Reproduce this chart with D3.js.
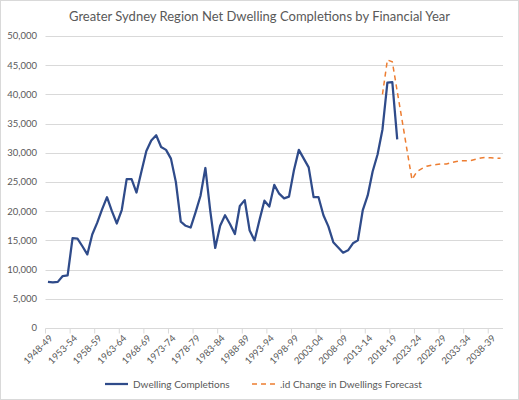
<!DOCTYPE html>
<html>
<head>
<meta charset="utf-8">
<script src="https://cdn.jsdelivr.net/npm/d3@7"></script>
<style>
  body { margin: 0; background: #fff; }
  svg { display: block; font-family: Lato, "Open Sans", sans-serif; }
</style>
</head>
<body>
<div id="chart"></div>
<script>
'use strict';

var TITLE = 'Greater Sydney Region Net Dwelling Completions by Financial Year';

// financial years 1948-49 .. 2040-41
var years = d3.range(1948, 2041).map(function(y) {
    return y + '-' + String((y + 1) % 100).padStart(2, '0');
});

// Dwelling Completions, from 1948-49
var completions = [
    7900, 7800, 7900, 8900, 9000, 15400, 15300, 14000, 12600, 16000,
    18000, 20300, 22400, 20000, 17900, 20200, 25500, 25500, 23200, 26800,
    30300, 32100, 33000, 31000, 30500, 29000, 25000, 18200, 17500, 17200,
    19800, 22600, 27400, 20000, 13700, 17500, 19300, 17800, 16100, 20900,
    21900, 16700, 15000, 18500, 21800, 20800, 24500, 23000, 22200, 22500,
    27000, 30500, 29000, 27500, 22400, 22400, 19300, 17400, 14700, 13800,
    12900, 13300, 14500, 15000, 20200, 22700, 26800, 29700, 34000, 42000,
    42100, 32300
];

// .id Change in Dwellings Forecast, from 2016-17
var forecastStart = 68;
var forecast = [
    40000, 45900, 45600, 40500, 35500, 30400, 25400, 26800, 27300, 27700,
    27900, 28000, 28100, 28100, 28300, 28500, 28650, 28650, 28700, 28900,
    29100, 29200, 29150, 29100, 29050
];

var yTicks = d3.range(0, 50001, 5000);

var width = 519, height = 400;
var margin = { top: 36, right: 16, bottom: 72, left: 45.5 };

var svg = d3.select('#chart')
    .append('svg')
    .attr('width', width)
    .attr('height', height);

// outer border
svg.append('rect')
    .attr('x', 0.5).attr('y', 0.5)
    .attr('width', width - 1).attr('height', height - 1)
    .attr('fill', '#fff')
    .attr('stroke', '#d9d9d9');

svg.append('text')
    .attr('x', width / 2)
    .attr('y', 21)
    .attr('text-anchor', 'middle')
    .style('font-size', '13px')
    .attr('fill', '#595959')
    .text(TITLE);

var x = d3.scaleBand()
    .domain(years)
    .range([margin.left, width - margin.right])
    .padding(0);

var y = d3.scaleLinear()
    .domain([0, 50000])
    .range([height - margin.bottom, margin.top]);

function cx(i) { return x(years[i]) + x.bandwidth() / 2; }

// gridlines
svg.append('g')
    .selectAll('line')
    .data(yTicks.slice(1))
    .enter().append('line')
    .attr('x1', margin.left)
    .attr('x2', width - margin.right)
    .attr('y1', function(d) { return Math.round(y(d)) + 0.5; })
    .attr('y2', function(d) { return Math.round(y(d)) + 0.5; })
    .attr('stroke', '#d9d9d9')
    .attr('stroke-width', 1);

// y axis labels
svg.append('g')
    .selectAll('text')
    .data(yTicks)
    .enter().append('text')
    .attr('x', 37)
    .attr('y', function(d) { return y(d); })
    .attr('dy', '0.35em')
    .attr('text-anchor', 'end')
    .style('font-size', '9.5px')
    .attr('fill', '#595959')
    .text(function(d) { return d3.format(',')(d); });

// x axis line and tick marks
var axisY = Math.round(y(0)) + 0.5;
svg.append('line')
    .attr('x1', margin.left).attr('x2', width - margin.right)
    .attr('y1', axisY).attr('y2', axisY)
    .attr('stroke', '#d9d9d9');

var tickYears = years.filter(function(d, i) { return i % 5 === 0; });
svg.append('g')
    .selectAll('line')
    .data(tickYears)
    .enter().append('line')
    .attr('x1', function(d) { return x(d); })
    .attr('x2', function(d) { return x(d); })
    .attr('y1', axisY)
    .attr('y2', axisY + 5)
    .attr('stroke', '#d9d9d9');

svg.append('g')
    .selectAll('text')
    .data(tickYears)
    .enter().append('text')
    .attr('transform', function(d) {
        return 'translate(' + (x(d) + x.bandwidth() / 2 + 3) + ',' + (axisY + 8) + ') rotate(-45)';
    })
    .attr('text-anchor', 'end')
    .attr('dy', '0.35em')
    .style('font-size', '9.5px')
    .attr('fill', '#595959')
    .text(function(d) { return d; });

// lines
var lineBlue = d3.line()
    .x(function(d, i) { return cx(i); })
    .y(function(d) { return y(d); });

var lineOrange = d3.line()
    .x(function(d, i) { return cx(i + forecastStart); })
    .y(function(d) { return y(d); });

svg.append('path')
    .datum(forecast)
    .attr('d', lineOrange)
    .attr('fill', 'none')
    .attr('stroke', '#ed7d31')
    .attr('stroke-width', 1.5)
    .attr('stroke-dasharray', '5,4');

svg.append('path')
    .datum(completions)
    .attr('d', lineBlue)
    .attr('fill', 'none')
    .attr('stroke', '#2f4b8a')
    .attr('stroke-width', 2.25)
    .attr('stroke-linejoin', 'round');

// legend
var legend = svg.append('g').attr('transform', 'translate(0,384)');
legend.append('line')
    .attr('x1', 105).attr('x2', 128)
    .attr('stroke', '#2f4b8a').attr('stroke-width', 2.25);
legend.append('text')
    .attr('x', 133).attr('dy', '0.35em')
    .style('font-size', '10px').attr('fill', '#595959')
    .text('Dwelling Completions');
legend.append('line')
    .attr('x1', 252).attr('x2', 275)
    .attr('stroke', '#ed7d31').attr('stroke-width', 1.5)
    .attr('stroke-dasharray', '5,4');
legend.append('text')
    .attr('x', 280).attr('dy', '0.35em')
    .style('font-size', '10px').attr('fill', '#595959')
    .text('.id Change in Dwellings Forecast');
</script>
</body>
</html>
